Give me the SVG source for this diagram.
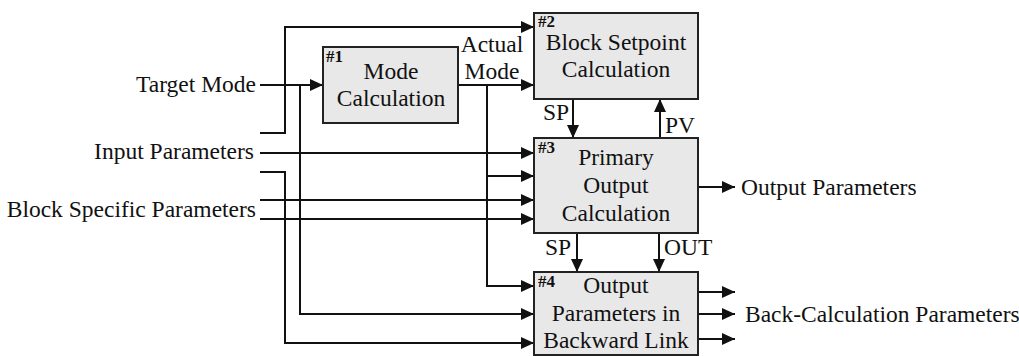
<svg xmlns="http://www.w3.org/2000/svg" width="1019" height="356" viewBox="0 0 1019 356">
<defs>
<style>
.box{fill:#e8e8e8;stroke:#222;stroke-width:2}
.t{font-family:"Liberation Serif","Times New Roman",serif;font-size:23.5px;fill:#111}
.c{text-anchor:middle}
.e{text-anchor:end}
.n{font-family:"Liberation Serif","Times New Roman",serif;font-size:17px;font-weight:bold;fill:#111}
.w{fill:none;stroke:#111;stroke-width:2}
</style>
<marker id="ah" markerUnits="userSpaceOnUse" markerWidth="13" markerHeight="12" refX="13" refY="6" orient="auto">
<path d="M0,0 L13,6 L0,12 z" fill="#111"/>
</marker>
</defs>
<rect width="1019" height="356" fill="#fff"/>
<g id="connectors">
<path class="w" d="M260,133 H285 V27 H534" marker-end="url(#ah)"/>
<path class="w" d="M260,85 H323" marker-end="url(#ah)"/>
<path class="w" d="M300,85 V314 H534" marker-end="url(#ah)"/>
<path class="w" d="M260,153 H534" marker-end="url(#ah)"/>
<path class="w" d="M260,172 H285 V343 H534" marker-end="url(#ah)"/>
<path class="w" d="M260,200 H534" marker-end="url(#ah)"/>
<path class="w" d="M260,219 H534" marker-end="url(#ah)"/>
<path class="w" d="M458,85 H534" marker-end="url(#ah)"/>
<path class="w" d="M487,85 V286 H534" marker-end="url(#ah)"/>
<path class="w" d="M487,176 H534" marker-end="url(#ah)"/>
<path class="w" d="M573,99 V138" marker-end="url(#ah)"/>
<path class="w" d="M660,138 V99" marker-end="url(#ah)"/>
<path class="w" d="M577,233 V272" marker-end="url(#ah)"/>
<path class="w" d="M659,233 V272" marker-end="url(#ah)"/>
<path class="w" d="M698,187 H735" marker-end="url(#ah)"/>
<path class="w" d="M698,292 H735" marker-end="url(#ah)"/>
<path class="w" d="M698,314 H735" marker-end="url(#ah)"/>
<path class="w" d="M698,339 H735" marker-end="url(#ah)"/>
<text class="t" x="492" y="52" text-anchor="middle">Actual</text>
<text class="t" x="492" y="79" text-anchor="middle">Mode</text>
<text class="t" x="543" y="120">SP</text>
<text class="t" x="665" y="133">PV</text>
<text class="t" x="545" y="255">SP</text>
<text class="t" x="664" y="255">OUT</text>
</g>
<g id="inputs">
<text class="t e" x="256" y="92">Target Mode</text>
<text class="t e" x="254" y="159">Input Parameters</text>
<text class="t e" x="256" y="217">Block Specific Parameters</text>
</g>
<g id="outputs">
<text class="t" x="741" y="195">Output Parameters</text>
<text class="t" x="745" y="322">Back-Calculation Parameters</text>
</g>
<g id="node1">
<rect class="box" x="323" y="47" width="135" height="76"/>
<text class="n" x="326" y="62">#1</text>
<text class="t c" x="391" y="79">Mode</text>
<text class="t c" x="391" y="106">Calculation</text>
</g>
<g id="node2">
<rect class="box" x="534" y="13" width="164" height="86"/>
<text class="n" x="538" y="27">#2</text>
<text class="t c" x="616" y="50">Block Setpoint</text>
<text class="t c" x="616" y="77">Calculation</text>
</g>
<g id="node3">
<rect class="box" x="534" y="138" width="164" height="95"/>
<text class="n" x="538" y="153">#3</text>
<text class="t c" x="616" y="165">Primary</text>
<text class="t c" x="616" y="193">Output</text>
<text class="t c" x="616" y="221">Calculation</text>
</g>
<g id="node4">
<rect class="box" x="534" y="272" width="164" height="83"/>
<text class="n" x="538" y="287">#4</text>
<text class="t c" x="616" y="293">Output</text>
<text class="t c" x="616" y="321">Parameters in</text>
<text class="t c" x="616" y="348">Backward Link</text>
</g>
</svg>
